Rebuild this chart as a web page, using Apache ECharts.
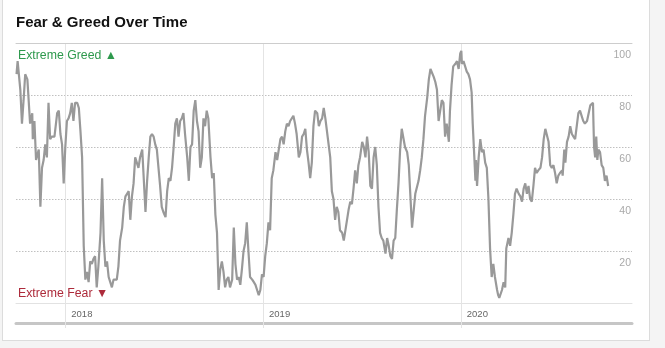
<!DOCTYPE html>
<html>
<head>
<meta charset="utf-8">
<title>Fear &amp; Greed Over Time</title>
<script src="https://cdn.jsdelivr.net/npm/echarts@6/dist/echarts.min.js"></script>
<style>
  html, body { margin: 0; padding: 0; background: #f4f4f4; overflow: hidden; }
  #card { position: absolute; left: 2px; top: -6px; width: 648px; height: 347px;
          background: #fff; border: 1px solid #dcdcdc; box-sizing: border-box; }
  #chart { position: absolute; left: 0; top: 0; width: 665px; height: 348px; }
</style>
</head>
<body>
<div id="card"></div>
<div id="chart"></div>
<script>
// Fear & Greed index readings, oldest first
const dates = [
  '2017-10-03','2017-10-05','2017-10-10','2017-10-13','2017-10-16','2017-10-19','2017-10-23','2017-10-28',
  '2017-11-01','2017-11-02','2017-11-05','2017-11-08','2017-11-13','2017-11-16','2017-11-19','2017-11-22',
  '2017-11-25','2017-11-28','2017-12-01','2017-12-04','2017-12-07','2017-12-12','2017-12-17','2017-12-20',
  '2017-12-23','2017-12-26','2017-12-29',
  '2018-01-01','2018-01-04','2018-01-07','2018-01-10','2018-01-13','2018-01-16','2018-01-19','2018-01-23',
  '2018-01-26','2018-01-29','2018-02-01','2018-02-04','2018-02-07','2018-02-10','2018-02-13','2018-02-16',
  '2018-02-19','2018-02-22','2018-02-25','2018-02-28','2018-03-03','2018-03-07','2018-03-10','2018-03-13',
  '2018-03-16','2018-03-19','2018-03-22','2018-03-25','2018-03-28','2018-03-31','2018-04-03','2018-04-06',
  '2018-04-09','2018-04-12','2018-04-16','2018-04-19','2018-04-22','2018-04-25','2018-04-28','2018-05-01',
  '2018-05-04','2018-05-07','2018-05-10','2018-05-13','2018-05-16','2018-05-19','2018-05-23','2018-05-26',
  '2018-05-29','2018-06-01','2018-06-04','2018-06-07','2018-06-10','2018-06-13','2018-06-16','2018-06-19',
  '2018-06-22','2018-06-25','2018-06-28','2018-07-01','2018-07-05','2018-07-08','2018-07-11','2018-07-14',
  '2018-07-17','2018-07-20','2018-07-23','2018-07-26','2018-07-29','2018-08-01','2018-08-04','2018-08-07',
  '2018-08-10','2018-08-14','2018-08-17','2018-08-20','2018-08-23','2018-08-26','2018-08-29','2018-09-01',
  '2018-09-04','2018-09-07','2018-09-10','2018-09-13','2018-09-16','2018-09-19','2018-09-22','2018-09-26',
  '2018-09-29','2018-10-02','2018-10-05','2018-10-08','2018-10-11','2018-10-14','2018-10-17','2018-10-20',
  '2018-10-23','2018-10-26','2018-10-29','2018-11-01','2018-11-05','2018-11-08','2018-11-11','2018-11-14',
  '2018-11-17','2018-11-20','2018-11-23','2018-11-26','2018-11-29','2018-12-02','2018-12-05','2018-12-08',
  '2018-12-12','2018-12-15','2018-12-18','2018-12-21','2018-12-24','2018-12-27','2018-12-30',
  '2019-01-02','2019-01-05','2019-01-08','2019-01-11','2019-01-14','2019-01-17','2019-01-20','2019-01-24',
  '2019-01-27','2019-01-30','2019-02-02','2019-02-05','2019-02-08','2019-02-11','2019-02-14','2019-02-17',
  '2019-02-20','2019-02-23','2019-02-26','2019-03-01','2019-03-04','2019-03-08','2019-03-11','2019-03-14',
  '2019-03-17','2019-03-20','2019-03-23','2019-03-26','2019-03-29','2019-04-01','2019-04-04','2019-04-07',
  '2019-04-11','2019-04-14','2019-04-17','2019-04-20','2019-04-23','2019-04-26','2019-04-29','2019-05-02',
  '2019-05-05','2019-05-08','2019-05-11','2019-05-14','2019-05-17','2019-05-20','2019-05-23','2019-05-27',
  '2019-05-30','2019-06-02','2019-06-05','2019-06-08','2019-06-11','2019-06-14','2019-06-17','2019-06-20',
  '2019-06-23','2019-06-26','2019-06-29','2019-07-03','2019-07-06','2019-07-09','2019-07-12','2019-07-15',
  '2019-07-18','2019-07-21','2019-07-24','2019-07-27','2019-07-30','2019-08-02','2019-08-05','2019-08-08',
  '2019-08-11','2019-08-15','2019-08-18','2019-08-21','2019-08-24','2019-08-27','2019-08-30','2019-09-02',
  '2019-09-05','2019-09-08','2019-09-11','2019-09-14','2019-09-17','2019-09-20','2019-09-24','2019-09-27',
  '2019-09-30','2019-10-03','2019-10-06','2019-10-09','2019-10-12','2019-10-15','2019-10-18','2019-10-21',
  '2019-10-24','2019-10-27','2019-10-31','2019-11-03','2019-11-06','2019-11-09','2019-11-12','2019-11-15',
  '2019-11-18','2019-11-21','2019-11-24','2019-11-27','2019-11-30','2019-12-03','2019-12-06','2019-12-10',
  '2019-12-12','2019-12-15','2019-12-18','2019-12-22','2019-12-25','2019-12-28','2019-12-31',
  '2020-01-02','2020-01-03','2020-01-06','2020-01-09','2020-01-12','2020-01-15','2020-01-18','2020-01-21',
  '2020-01-23','2020-01-26','2020-01-28','2020-01-29','2020-01-31','2020-02-03','2020-02-06','2020-02-09',
  '2020-02-12','2020-02-15','2020-02-18','2020-02-21','2020-02-24','2020-02-27','2020-03-01','2020-03-04',
  '2020-03-08','2020-03-10','2020-03-12','2020-03-17','2020-03-20','2020-03-23','2020-03-25','2020-03-29',
  '2020-04-01','2020-04-04','2020-04-07','2020-04-10','2020-04-13','2020-04-17','2020-04-20','2020-04-23',
  '2020-04-26','2020-04-29','2020-05-02','2020-05-05','2020-05-08','2020-05-11','2020-05-14','2020-05-17',
  '2020-05-20','2020-05-23','2020-05-27','2020-05-30','2020-06-02','2020-06-05','2020-06-08','2020-06-11',
  '2020-06-14','2020-06-17','2020-06-20','2020-06-23','2020-06-26','2020-06-29','2020-07-02','2020-07-06',
  '2020-07-07','2020-07-10','2020-07-12','2020-07-15','2020-07-18','2020-07-21','2020-07-24','2020-07-27',
  '2020-07-30','2020-08-02','2020-08-05','2020-08-08','2020-08-11','2020-08-14','2020-08-17','2020-08-21',
  '2020-08-24','2020-08-27','2020-08-30','2020-09-01','2020-09-02','2020-09-03','2020-09-05','2020-09-07',
  '2020-09-09','2020-09-11','2020-09-14','2020-09-17','2020-09-20','2020-09-23','2020-09-26','2020-09-29'
];

const scores = [
  88, 93, 82, 69, 78, 88, 86, 69,
  73, 63, 70, 55, 59, 37, 52, 55,
  61, 56, 77, 63, 64, 64, 73, 74,
  65, 61, 46,
  60, 70, 71, 73, 77, 70, 77, 77,
  75, 66, 56, 22, 9, 12, 8, 16,
  15, 17, 18, 6, 14, 27, 48, 24,
  14, 16, 10, 8, 6, 9, 9, 9,
  14, 24, 29, 37, 41, 42, 43, 32,
  41, 46, 56, 54, 52, 56, 59, 47,
  35, 47, 56, 64, 65, 64, 61, 59,
  52, 45, 37, 35, 33, 43, 48, 47,
  52, 60, 69, 71, 64, 70, 71, 73,
  65, 56, 47, 60, 61, 74, 78, 70,
  66, 52, 56, 71, 68, 74, 71, 56,
  48, 50, 34, 27, 5, 13, 16, 12,
  6, 9, 10, 6, 9, 29, 15, 9,
  10, 7, 13, 20, 23, 31, 20, 10,
  9, 8, 7, 5, 3, 5, 11,
  10, 18, 23, 31, 28, 48, 51, 58,
  55, 59, 63, 64, 61, 66, 69, 68,
  70, 70, 72, 69, 65, 56, 58, 64,
  65, 67, 59, 54, 48, 54, 68, 74,
  73, 68, 70, 71, 75, 71, 71, 61,
  56, 43, 40, 32, 37, 35, 28, 27,
  24, 24, 32, 36, 39, 38, 44, 51,
  46, 53, 56, 62, 60, 56, 64, 58,
  45, 44, 56, 60, 53, 37, 27, 25,
  24, 19, 25, 22, 18, 17, 24, 25,
  36, 46, 59, 67, 67, 60, 58, 53,
  53, 29, 29, 42, 42, 47, 51, 56,
  63, 72, 79, 86, 90, 90, 87, 85,
  82, 70, 70, 78, 77, 64, 69, 62,
  74, 84, 91, 92, 93, 90, 96,
  97, 92, 93, 91, 89, 88, 86, 81,
  69, 56, 47, 55, 45, 56, 63, 58,
  59, 54, 52, 40, 21, 10, 15, 10,
  5, 3, 2, 5, 8, 6, 21, 25,
  22, 27, 34, 42, 44, 42, 41, 39,
  44, 46, 42, 45, 40, 39, 45, 52,
  50, 51, 52, 56, 63, 67, 67, 62,
  53, 52, 53, 50, 46, 49, 50, 51,
  49, 59, 54, 62, 64, 68, 65, 64,
  63, 68, 73, 74, 72, 70, 69, 70,
  73, 76, 76, 77, 68, 60, 56, 64,
  55, 59, 58, 53, 52, 47, 49, 45
];

const scoreTicks = [0, 20, 40, 60, 80, 100];
const zoneLabels = { greed: 'Extreme Greed \u25B2', fear: 'Extreme Fear \u25BC' };
const chartTitle = 'Fear & Greed Over Time';

const dayMs = 24 * 3600 * 1000;
const rangeStart = '2017-10-02';
const rangeEnd = '2020-11-12';
const fontFamily = '"Liberation Sans", Arial, Helvetica, sans-serif';

const chart = echarts.init(document.getElementById('chart'), null, { renderer: 'canvas' });

const hidden = { show: false };

chart.setOption({
  animation: false,
  backgroundColor: 'transparent',
  textStyle: { fontFamily: fontFamily },
  grid: { left: 16, right: 33, top: 43, bottom: 45, containLabel: false },
  xAxis: [
    {
      // year axis: labels, year rules and the short drop lines below the plot
      type: 'time',
      min: rangeStart,
      max: rangeEnd,
      minInterval: 365 * dayMs,
      maxInterval: 366 * dayMs,
      position: 'bottom',
      axisLine: { show: true, lineStyle: { color: '#e2e2e2', width: 1 } },
      axisTick: { show: true, length: 25, lineStyle: { color: '#e4e4e4', width: 1 } },
      splitLine: { show: true, showMinLine: false, showMaxLine: false,
                   lineStyle: { color: '#e4e4e4', width: 1 } },
      axisLabel: {
        show: true,
        formatter: function (v) { return String(new Date(v).getFullYear()); },
        align: 'left',
        padding: [0, 0, 0, 6],
        margin: 6,
        color: '#666',
        fontSize: 9.5,
        fontFamily: fontFamily,
        showMinLabel: false,
        showMaxLabel: false
      }
    },
    {
      // rule along the top of the plot
      type: 'time',
      min: rangeStart,
      max: rangeEnd,
      position: 'top',
      axisLine: { show: true, lineStyle: { color: '#cdcdcd', width: 1 } },
      axisTick: hidden, axisLabel: hidden, splitLine: hidden
    },
    {
      // heavy base rule under the year labels
      type: 'time',
      min: rangeStart,
      max: rangeEnd,
      position: 'bottom',
      offset: 20,
      axisLine: { show: true, lineStyle: { color: '#c6c6c6', width: 3 } },
      axisTick: hidden, axisLabel: hidden, splitLine: hidden
    }
  ],
  yAxis: {
    type: 'value',
    position: 'right',
    min: scoreTicks[0],
    max: scoreTicks[scoreTicks.length - 1],
    interval: scoreTicks[1] - scoreTicks[0],
    axisLine: hidden,
    axisTick: hidden,
    splitLine: { show: true, lineStyle: { color: '#c0c0c0', width: 1, type: [1.5, 1.5] } },
    axisLabel: {
      inside: true,
      margin: 1,
      verticalAlign: 'top',
      padding: [7, 0, 0, 0],
      color: '#a9a9a9',
      fontSize: 10.5,
      fontFamily: fontFamily,
      formatter: function (v) { return v === 0 ? '' : String(v); }
    }
  },
  graphic: [
    {
      type: 'text', x: 16, y: 23,
      style: { text: chartTitle, font: 'bold 15px ' + fontFamily, fill: '#111', verticalAlign: 'middle' }
    },
    {
      type: 'text', x: 18, y: 55.5,
      style: { text: zoneLabels.greed, font: '12.3px ' + fontFamily, fill: '#2e994d', verticalAlign: 'middle' }
    },
    {
      type: 'text', x: 18, y: 293.5,
      style: { text: zoneLabels.fear, font: '12.3px ' + fontFamily, fill: '#ad2b3b', verticalAlign: 'middle' }
    }
  ],
  series: [
    {
      type: 'line',
      xAxisIndex: 0,
      yAxisIndex: 0,
      data: dates.map(function (d, i) { return [d, scores[i]]; }),
      showSymbol: false,
      symbol: 'none',
      lineStyle: { color: '#999', width: 2.2 },
      z: 5
    }
  ]
});
</script>
</body>
</html>
